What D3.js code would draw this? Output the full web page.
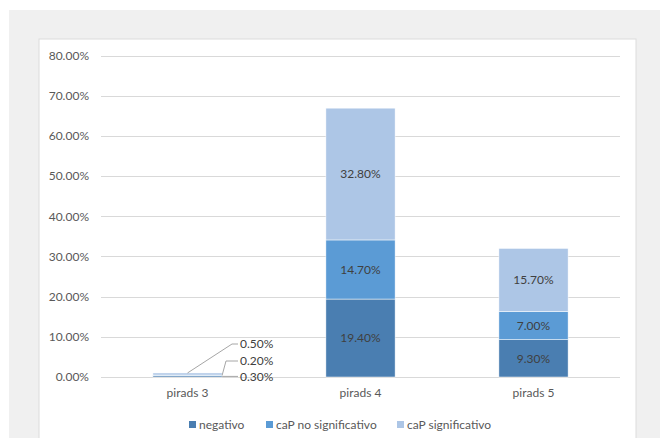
<!DOCTYPE html>
<html lang="en">
<head>
<meta charset="utf-8">
<script src="https://d3js.org/d3.v7.min.js"></script>
<style>
  body { margin: 0; background: #fff; }
  svg text { font-family: Lato, "Open Sans", sans-serif; }
</style>
</head>
<body>
<div id="chart"></div>
<script>
// data
var categories = ["pirads 3", "pirads 4", "pirads 5"];
var seriesNames = ["negativo", "caP no significativo", "caP significativo"];
var negativo = [0.3, 19.4, 9.3];
var capNoSig = [0.2, 14.7, 7.0];
var capSig = [0.5, 32.8, 15.7];
var yTicks = [0, 10, 20, 30, 40, 50, 60, 70, 80];
var colors = ["#4a7eb1", "#5b9bd5", "#adc6e6"];

var width = 660, height = 438;
var svg = d3.select("#chart").append("svg")
  .attr("width", width)
  .attr("height", height);

// background panels
svg.append("rect").attr("x", 9).attr("y", 10)
  .attr("width", width - 9).attr("height", height - 10)
  .attr("fill", "#f0f0f0");
svg.append("rect").attr("x", 39).attr("y", 39)
  .attr("width", 597).attr("height", 420)
  .attr("fill", "#fff").attr("stroke", "#dcdcdc").attr("stroke-width", 1);

var plotLeft = 101, plotRight = 620, plotTop = 55.5, plotBottom = 377;

var x = d3.scaleBand().domain(categories)
  .range([plotLeft, plotRight])
  .paddingInner(0.6).paddingOuter(0.3);

var y = d3.scaleLinear().domain([0, 80]).range([plotBottom, plotTop]);

// gridlines
svg.append("g").selectAll("line")
  .data(yTicks).enter().append("line")
  .attr("x1", plotLeft).attr("x2", plotRight)
  .attr("y1", function(d) { return Math.round(y(d)) + 0.5; })
  .attr("y2", function(d) { return Math.round(y(d)) + 0.5; })
  .attr("stroke", "#d9d9d9").attr("stroke-width", 1);

// y axis labels
var yAxis = d3.axisLeft(y).tickValues(yTicks)
  .tickSize(0).tickPadding(12)
  .tickFormat(function(d) { return d.toFixed(2) + "%"; });
var gy = svg.append("g").attr("transform", "translate(" + plotLeft + ",0)").call(yAxis);
gy.select(".domain").remove();
gy.selectAll("text").attr("fill", "#595959").style("font-size", "12px");

// x axis labels
var xAxis = d3.axisBottom(x).tickSize(0).tickPadding(11);
var gx = svg.append("g").attr("transform", "translate(0," + plotBottom + ")").call(xAxis);
gx.select(".domain").remove();
gx.selectAll("text").attr("fill", "#595959").style("font-size", "12px");

// stacked bars
var rows = categories.map(function(c, i) {
  return { cat: c, s0: negativo[i], s1: capNoSig[i], s2: capSig[i] };
});
var stack = d3.stack().keys(["s0", "s1", "s2"]);
var layers = stack(rows);

var gl = svg.append("g").selectAll("g")
  .data(layers).enter().append("g")
  .attr("fill", function(d, i) { return colors[i]; });

gl.selectAll("rect")
  .data(function(d) { return d; }).enter().append("rect")
  .attr("x", function(d) { return x(d.data.cat); })
  .attr("width", x.bandwidth())
  .attr("y", function(d) { return y(d[1]); })
  .attr("height", function(d) { return y(d[0]) - y(d[1]); })
  .attr("stroke", "#fff").attr("stroke-width", 0.5);

// labels inside bars (skip the tiny pirads 3 bar)
gl.selectAll("text")
  .data(function(d) { return d.filter(function(p) { return p.data.cat !== "pirads 3"; }); })
  .enter().append("text")
  .attr("x", function(d) { return x(d.data.cat) + x.bandwidth() / 2; })
  .attr("y", function(d) { return (y(d[0]) + y(d[1])) / 2; })
  .attr("dy", "0.35em")
  .attr("text-anchor", "middle")
  .attr("fill", "#404040")
  .style("font-size", "12px")
  .text(function(d) { return (d[1] - d[0]).toFixed(2) + "%"; });

// callout labels for pirads 3
var c3 = categories[0];
var bx = x(c3), bw = x.bandwidth();
var labX = 240;
var callouts = [
  { v: capSig[0], pts: [[bx + bw / 2, y(1)], [232, 344], [238, 344]], ly: 344 },
  { v: capNoSig[0], pts: [[bx + bw, y(0.4)], [226, 361], [238, 361]], ly: 361 },
  { v: negativo[0], pts: [[bx + bw, y(0.15)], [238, y(0.15)]], ly: 377 }
];
svg.append("g").selectAll("path")
  .data(callouts).enter().append("path")
  .attr("d", function(d) { return d3.line()(d.pts); })
  .attr("fill", "none").attr("stroke", "#a6a6a6").attr("stroke-width", 1);
svg.append("g").selectAll("text")
  .data(callouts).enter().append("text")
  .attr("x", labX).attr("y", function(d) { return d.ly; })
  .attr("dy", "0.35em")
  .attr("fill", "#404040").style("font-size", "12px")
  .text(function(d) { return d.v.toFixed(2) + "%"; });

// legend
var legendX = [189, 266, 397];
var lg = svg.append("g").selectAll("g")
  .data(seriesNames).enter().append("g")
  .attr("transform", function(d, i) { return "translate(" + legendX[i] + ",421)"; });
lg.append("rect").attr("width", 7).attr("height", 7)
  .attr("fill", function(d, i) { return colors[i]; });
lg.append("text").attr("x", 10).attr("y", 3.5).attr("dy", "0.35em")
  .attr("fill", "#595959").style("font-size", "12px")
  .text(function(d) { return d; });
</script>
</body>
</html>
